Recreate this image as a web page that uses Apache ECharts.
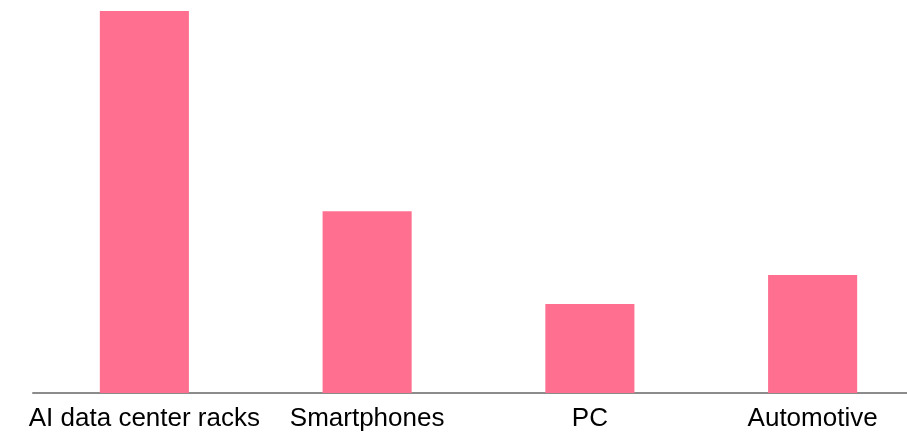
<!DOCTYPE html>
<html>
<head>
<meta charset="utf-8">
<script src="https://cdn.jsdelivr.net/npm/echarts@6/dist/echarts.min.js"></script>
<style>html,body{margin:0;padding:0;background:#fff}#c{width:907px;height:433px}</style>
</head>
<body>
<div id="c"></div>
<script>
const categories = ["AI data center racks", "Smartphones", "PC", "Automotive"];
const values = [100, 47.6, 23.3, 30.9];

const chart = echarts.init(document.getElementById('c'), null, {renderer: 'canvas'});
chart.setOption({
  animation: false,
  grid: {left: 33, width: 891, top: 11, height: 382, containLabel: false, outerBoundsMode: 'none'},
  xAxis: {
    type: 'category',
    data: categories,
    axisLine: {show: true, lineStyle: {color: '#8c8c8c', width: 2}},
    axisTick: {show: false},
    axisLabel: {color: '#000', fontSize: 26, fontFamily: 'Liberation Sans, Arial, sans-serif', margin: 13, interval: 0}
  },
  yAxis: {
    type: 'value', min: 0, max: 100,
    show: false,
    splitLine: {show: false}
  },
  series: [{
    type: 'bar',
    data: values,
    barWidth: '40%',
    itemStyle: {color: '#ff7090'}
  }]
});
</script>
</body>
</html>
